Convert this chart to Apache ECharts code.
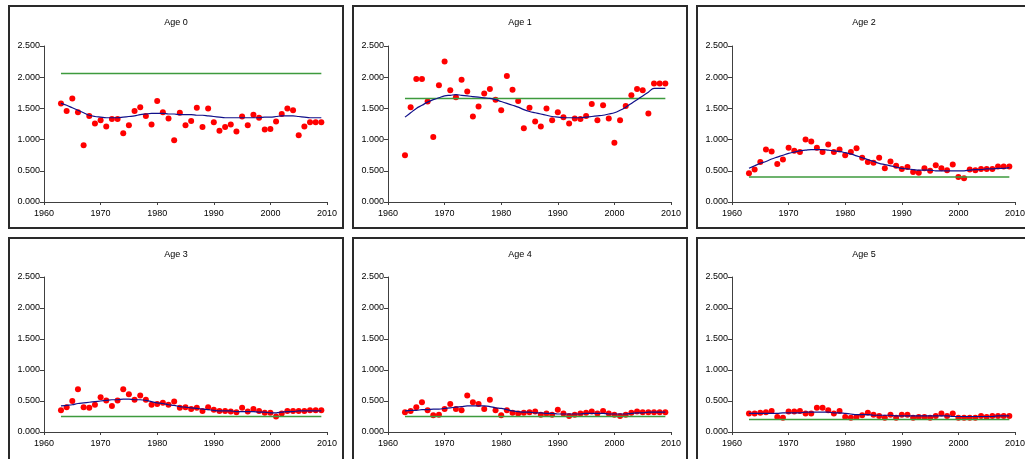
<!DOCTYPE html>
<html>
<head>
<meta charset="utf-8">
<script src="https://cdn.jsdelivr.net/npm/echarts@6/dist/echarts.min.js"></script>
<style>
  html, body { margin: 0; padding: 0; background: #fff; width: 1025px; height: 459px; overflow: hidden; position: relative; }
  .chart { position: absolute; }
  .frame { position: absolute; box-sizing: border-box; border: 2px solid #2a2a2a; pointer-events: none; }
</style>
</head>
<body>
<script>
// ---- Data ----
const years = [];
for (let y = 1963; y <= 2009; y++) years.push(y);

const titles = ['Age 0', 'Age 1', 'Age 2', 'Age 3', 'Age 4', 'Age 5'];
const xTicks = [1960, 1970, 1980, 1990, 2000, 2010];
const yTicks = [0, 0.5, 1.0, 1.5, 2.0, 2.5];

const refAge0 = 2.06;
const refAge1 = 1.66;
const refAge2 = 0.40;
const refAge3 = 0.25;
const refAge4 = 0.25;
const refAge5 = 0.20;

const obsAge0 = [1.58,1.46,1.66,1.44,0.91,1.38,1.26,1.31,1.21,1.33,1.33,1.10,1.23,1.46,1.52,1.38,1.24,1.62,1.44,1.34,0.99,1.43,1.23,1.30,1.51,1.20,1.50,1.28,1.14,1.20,1.24,1.13,1.37,1.23,1.40,1.35,1.16,1.17,1.29,1.41,1.50,1.47,1.07,1.21,1.28,1.28,1.28];
const obsAge1 = [0.75,1.52,1.97,1.97,1.61,1.04,1.87,2.25,1.79,1.68,1.96,1.77,1.37,1.53,1.74,1.81,1.64,1.47,2.02,1.80,1.62,1.18,1.51,1.29,1.21,1.50,1.31,1.44,1.36,1.26,1.34,1.33,1.38,1.57,1.31,1.55,1.34,0.95,1.31,1.54,1.71,1.81,1.79,1.42,1.90,1.90,1.90];
const obsAge2 = [0.46,0.52,0.64,0.84,0.81,0.61,0.68,0.87,0.82,0.80,1.00,0.97,0.87,0.80,0.92,0.80,0.84,0.75,0.80,0.86,0.71,0.64,0.63,0.71,0.54,0.65,0.58,0.53,0.56,0.48,0.47,0.54,0.50,0.59,0.54,0.51,0.60,0.40,0.38,0.52,0.51,0.53,0.53,0.53,0.57,0.57,0.57];
const obsAge3 = [0.35,0.40,0.50,0.69,0.40,0.39,0.44,0.56,0.51,0.42,0.51,0.69,0.61,0.52,0.59,0.52,0.44,0.45,0.47,0.44,0.49,0.39,0.40,0.37,0.39,0.34,0.40,0.36,0.34,0.34,0.33,0.32,0.39,0.33,0.37,0.34,0.31,0.31,0.25,0.30,0.34,0.34,0.34,0.34,0.35,0.35,0.35];
const obsAge4 = [0.32,0.34,0.40,0.48,0.35,0.27,0.28,0.37,0.45,0.37,0.35,0.59,0.48,0.45,0.37,0.52,0.35,0.27,0.35,0.31,0.30,0.31,0.32,0.33,0.28,0.30,0.28,0.36,0.30,0.26,0.28,0.30,0.31,0.33,0.30,0.34,0.30,0.28,0.26,0.28,0.31,0.33,0.32,0.32,0.32,0.32,0.32];
const obsAge5 = [0.30,0.30,0.31,0.32,0.34,0.24,0.23,0.33,0.33,0.34,0.30,0.30,0.39,0.39,0.35,0.30,0.34,0.24,0.23,0.24,0.27,0.31,0.28,0.26,0.23,0.28,0.23,0.28,0.28,0.23,0.24,0.24,0.23,0.26,0.30,0.26,0.30,0.23,0.23,0.23,0.23,0.26,0.24,0.26,0.26,0.26,0.26];

const trendAge0 = [1.58,1.55,1.51,1.47,1.43,1.39,1.37,1.36,1.35,1.35,1.35,1.36,1.37,1.38,1.40,1.41,1.42,1.42,1.42,1.41,1.41,1.40,1.40,1.40,1.39,1.39,1.38,1.37,1.36,1.35,1.35,1.35,1.35,1.35,1.35,1.35,1.36,1.36,1.37,1.38,1.38,1.38,1.37,1.36,1.35,1.35,1.35];
const trendAge1 = [1.36,1.43,1.50,1.55,1.60,1.64,1.67,1.70,1.71,1.72,1.71,1.70,1.69,1.68,1.67,1.66,1.64,1.61,1.58,1.55,1.52,1.48,1.45,1.43,1.41,1.39,1.37,1.36,1.35,1.35,1.35,1.35,1.36,1.37,1.38,1.39,1.41,1.43,1.47,1.52,1.58,1.64,1.70,1.76,1.82,1.82,1.82];
const trendAge2 = [0.54,0.58,0.62,0.65,0.69,0.72,0.75,0.78,0.80,0.82,0.83,0.84,0.84,0.84,0.83,0.82,0.81,0.79,0.77,0.74,0.71,0.68,0.65,0.62,0.60,0.58,0.56,0.54,0.53,0.52,0.51,0.51,0.51,0.50,0.50,0.50,0.50,0.50,0.50,0.51,0.52,0.52,0.53,0.53,0.54,0.54,0.55];
const trendAge3 = [0.42,0.43,0.44,0.46,0.47,0.48,0.49,0.50,0.51,0.52,0.52,0.53,0.53,0.52,0.52,0.51,0.49,0.47,0.46,0.44,0.43,0.41,0.40,0.39,0.38,0.37,0.36,0.35,0.34,0.34,0.34,0.33,0.33,0.33,0.33,0.32,0.32,0.31,0.31,0.32,0.33,0.33,0.34,0.34,0.34,0.34,0.34];
const trendAge4 = [0.34,0.35,0.35,0.36,0.36,0.37,0.37,0.38,0.39,0.40,0.41,0.42,0.42,0.42,0.42,0.41,0.39,0.38,0.36,0.34,0.33,0.32,0.32,0.31,0.31,0.30,0.30,0.29,0.29,0.29,0.29,0.29,0.30,0.30,0.30,0.30,0.29,0.29,0.29,0.29,0.30,0.31,0.31,0.32,0.32,0.32,0.32];
const trendAge5 = [0.30,0.30,0.30,0.30,0.30,0.30,0.31,0.31,0.31,0.31,0.32,0.32,0.32,0.32,0.32,0.31,0.31,0.30,0.29,0.28,0.28,0.28,0.27,0.27,0.27,0.27,0.26,0.26,0.26,0.26,0.26,0.26,0.26,0.26,0.26,0.26,0.25,0.25,0.25,0.25,0.25,0.25,0.25,0.25,0.26,0.26,0.26];

const obsAll = [obsAge0, obsAge1, obsAge2, obsAge3, obsAge4, obsAge5];
const trendAll = [trendAge0, trendAge1, trendAge2, trendAge3, trendAge4, trendAge5];
const refAll = [refAge0, refAge1, refAge2, refAge3, refAge4, refAge5];

// ---- Layout ----
const panels = [
  { left: 8,   top: 5,   gridTop: 41 },
  { left: 352, top: 5,   gridTop: 41 },
  { left: 696, top: 5,   gridTop: 41 },
  { left: 8,   top: 237, gridTop: 40 },
  { left: 352, top: 237, gridTop: 40 },
  { left: 696, top: 237, gridTop: 40 }
];
const PW = 336, PH = 224;
const FONT = '"Liberation Sans", Arial, sans-serif';

panels.forEach((p, i) => {
  const div = document.createElement('div');
  div.className = 'chart';
  div.style.left = p.left + 'px';
  div.style.top = p.top + 'px';
  div.style.width = PW + 'px';
  div.style.height = PH + 'px';
  document.body.appendChild(div);
  const frame = document.createElement('div');
  frame.className = 'frame';
  frame.style.left = p.left + 'px';
  frame.style.top = p.top + 'px';
  frame.style.width = PW + 'px';
  frame.style.height = PH + 'px';
  document.body.appendChild(frame);

  const chart = echarts.init(div, null, { renderer: 'canvas' });
  const axisLine = { show: true, onZero: false, lineStyle: { color: '#404040', width: 1 } };
  chart.setOption({
    animation: false,
    textStyle: { fontFamily: FONT },
    title: {
      text: titles[i], left: 'center', top: 8,
      textStyle: { fontSize: 9, fontWeight: 'normal', color: '#000', fontFamily: FONT }
    },
    grid: { left: 36, top: p.gridTop, width: 283, height: 156 - (p.gridTop === 40 ? 1 : 0) },
    xAxis: {
      type: 'value', min: xTicks[0], max: xTicks[xTicks.length - 1], interval: 10,
      axisLine: axisLine,
      axisTick: { show: true, length: 3, inside: false, lineStyle: { color: '#404040' } },
      axisLabel: { fontSize: 9, color: '#000', margin: 7, fontFamily: FONT, formatter: v => String(v) },
      splitLine: { show: false }
    },
    yAxis: {
      type: 'value', min: yTicks[0], max: yTicks[yTicks.length - 1], interval: 0.5,
      axisLine: axisLine,
      axisTick: { show: true, length: 4, inside: false, lineStyle: { color: '#404040' } },
      axisLabel: { fontSize: 9, color: '#000', margin: 4, fontFamily: FONT, formatter: v => v.toFixed(3) },
      splitLine: { show: false }
    },
    series: [
      {
        type: 'line', showSymbol: false, silent: true,
        data: [[years[0], refAll[i]], [years[years.length - 1], refAll[i]]],
        lineStyle: { color: '#3d9a3d', width: 1.5 }
      },
      {
        type: 'line', showSymbol: false, smooth: 0.4, silent: true,
        data: years.map((y, k) => [y, trendAll[i][k]]),
        lineStyle: { color: '#10108a', width: 1.2 }
      },
      {
        type: 'scatter', symbol: 'circle', symbolSize: 6,
        data: years.map((y, k) => [y, obsAll[i][k]]),
        itemStyle: { color: '#ff0000', opacity: 1 }
      }
    ]
  });
});
</script>
</body>
</html>
